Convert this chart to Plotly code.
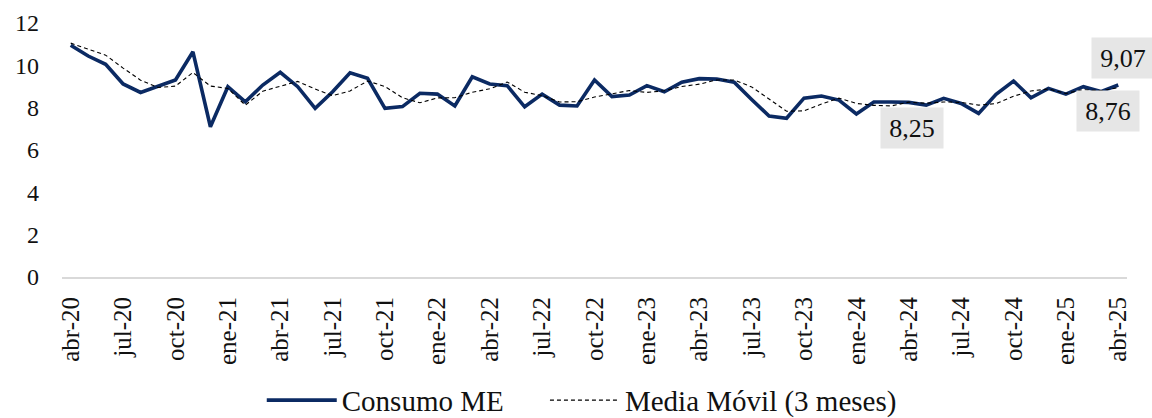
import plotly.graph_objects as go

months = ["abr-20","may-20","jun-20","jul-20","ago-20","sep-20","oct-20","nov-20","dic-20",
          "ene-21","feb-21","mar-21","abr-21","may-21","jun-21","jul-21","ago-21","sep-21","oct-21","nov-21","dic-21",
          "ene-22","feb-22","mar-22","abr-22","may-22","jun-22","jul-22","ago-22","sep-22","oct-22","nov-22","dic-22",
          "ene-23","feb-23","mar-23","abr-23","may-23","jun-23","jul-23","ago-23","sep-23","oct-23","nov-23","dic-23",
          "ene-24","feb-24","mar-24","abr-24","may-24","jun-24","jul-24","ago-24","sep-24","oct-24","nov-24","dic-24",
          "ene-25","feb-25","mar-25","abr-25"]

consumo_me = [10.95, 10.44, 10.05, 9.12, 8.72, 9.02, 9.31, 10.64, 7.10,
              8.99, 8.28, 9.07, 9.67, 8.99, 7.97, 8.75, 9.65, 9.39, 7.97, 8.05, 8.68,
              8.64, 8.08, 9.46, 9.12, 9.04, 8.04, 8.64, 8.12, 8.08, 9.31, 8.52, 8.60,
              9.04, 8.75, 9.20, 9.37, 9.35, 9.20, 8.39, 7.60, 7.50, 8.45, 8.55, 8.36,
              7.70, 8.27, 8.27, 8.25, 8.12, 8.44, 8.20, 7.73, 8.63, 9.26, 8.47, 8.91,
              8.64, 8.99, 8.76, 9.07]

media_movil = [11.05, 10.78, 10.48, 9.87, 9.30, 8.95, 9.02, 9.66, 9.02,
               8.91, 8.12, 8.78, 9.01, 9.24, 8.88, 8.57, 8.79, 9.26, 9.00, 8.47, 8.23,
               8.46, 8.47, 8.73, 8.89, 9.21, 8.73, 8.57, 8.27, 8.28, 8.50, 8.64, 8.81,
               8.72, 8.80, 9.00, 9.11, 9.31, 9.31, 8.98, 8.40, 7.83, 7.85, 8.17, 8.45,
               8.20, 8.11, 8.08, 8.26, 8.21, 8.27, 8.25, 8.12, 8.19, 8.54, 8.79, 8.88,
               8.67, 8.85, 8.80, 8.94]

y_ticks = [0, 2, 4, 6, 8, 10, 12]

# labelled points: (index, text, yshift, xshift)
labels = [(48, "8,25", -26, 3), (59, "8,76", -19, 7), (60, "9,07", 27, 5)]

x = list(range(len(months)))
tick_idx = list(range(0, len(months), 3))

FONT = "Liberation Serif, Times New Roman, DejaVu Serif, serif"

fig = go.Figure()
fig.add_trace(go.Scatter(x=x, y=consumo_me, mode="lines",
                         name="Consumo ME" + "\u00a0" * 5,
                         line=dict(color="#0b2a63", width=3.6)))
fig.add_trace(go.Scatter(x=x, y=media_movil, mode="lines", name="Media Móvil (3 meses)",
                         line=dict(color="#000000", width=1.1, dash="4px,3px")))

for idx, txt, ys, xs in labels:
    fig.add_annotation(x=idx, y=consumo_me[idx], text=txt, showarrow=False,
                       yshift=ys, xshift=xs, bgcolor="#e6e6e6", borderpad=5,
                       width=52, height=30,
                       font=dict(family=FONT, size=26, color="#111111"))

fig.update_layout(
    width=1152, height=418,
    font=dict(family=FONT),
    margin=dict(l=62, r=25, t=23, b=141, autoexpand=False),
    paper_bgcolor="white", plot_bgcolor="white",
    showlegend=True,
    legend=dict(orientation="h", xref="container", yref="paper",
                x=0.505, xanchor="center", y=-0.385, yanchor="top",
                font=dict(family=FONT, size=29, color="#111111"),
                itemwidth=70, tracegroupgap=0,
                bgcolor="rgba(0,0,0,0)"),
)
fig.update_xaxes(range=[-0.5, len(months) - 0.5], tickmode="array",
                 tickvals=tick_idx, ticktext=[months[i] for i in tick_idx],
                 tickangle=-90, showgrid=False, zeroline=False, automargin=False,
                 showline=True, linecolor="#d9d9d9", linewidth=2,
                 ticks="", ticklabelstandoff=8,
                 tickfont=dict(family=FONT, size=25, color="#111111"))
fig.update_yaxes(range=[0, 12], tickmode="array", tickvals=y_ticks,
                 showgrid=False, zeroline=False, showline=False, ticks="",
                 automargin=False, ticklabelstandoff=22,
                 tickfont=dict(family=FONT, size=24, color="#111111"))

fig.write_html("out.html", config={"displayModeBar": False},
               post_script="document.body.style.margin='0';document.body.style.overflow='hidden';")
